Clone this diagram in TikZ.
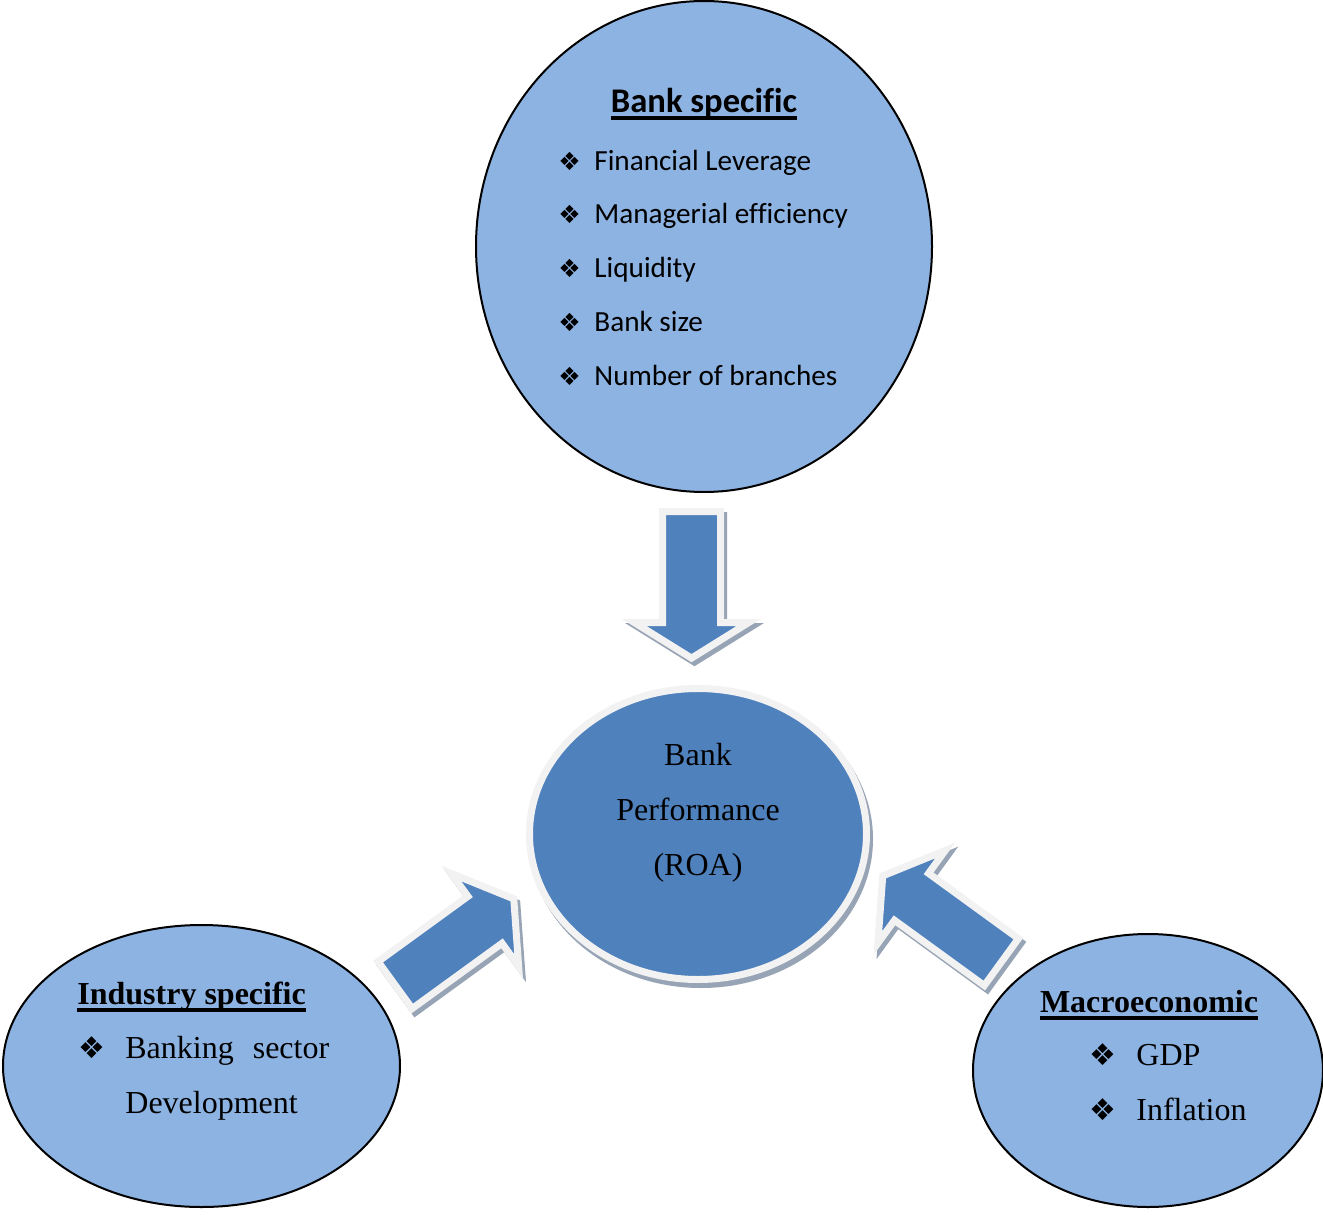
\documentclass[tikz,border=0pt]{standalone}
\usepackage{fontspec}
\setmainfont[Ligatures=NoCommon]{Liberation Serif}
\newfontfamily\calibri[Ligatures=NoCommon]{Carlito}
\newfontfamily\symbols{DejaVu Sans}
\usepackage{tikz}
\usetikzlibrary{shapes.geometric}

\definecolor{paleblue}{HTML}{8DB3E2}
\definecolor{midblue}{HTML}{4F81BD}
\definecolor{rimgray}{HTML}{F2F2F2}
\definecolor{shadegray}{HTML}{97A4B5}

\newcommand{\ulbox}[1]{\setbox0\hbox{#1}\rlap{\rule[-3.8pt]{\wd0}{1.8pt}}\box0}
\newcommand{\diam}[2]{\makebox[#1][l]{\fontsize{#2}{#2}\symbols\char"2756}}

\tikzset{
	oval/.style={ellipse, draw=black, line width=1pt, fill=paleblue, inner sep=0pt, outer sep=0pt},
	hub/.style={ellipse, line width=3.5pt, inner sep=0pt, outer sep=0pt,
		minimum width=168.5pt, minimum height=145.5pt},
	fatarrow/.style={line width=3.5pt, line join=miter,
		insert path={(-3.5,-29) -- (107.5,-29) -- (107.5,-57.25) -- (143.1,0)
			-- (107.5,57.25) -- (107.5,29) -- (-3.5,29) -- cycle}},
	sansitem/.style={anchor=base west, inner sep=0pt, font=\calibri\fontsize{14.6}{17}\selectfont},
	serifitem/.style={anchor=base west, inner sep=0pt, font=\fontsize{16}{19}\selectfont},
	hubtext/.style={anchor=base, inner sep=0pt, font=\fontsize{16}{19}\selectfont}
}

\newcommand{\blockarrow}[2]{%
	\filldraw[shift={(#1)}, shift={(3,4)}, rotate=#2, fatarrow, fill=shadegray, draw=shadegray];
	\filldraw[shift={(#1)}, rotate=#2, fatarrow, fill=midblue, draw=rimgray];
}

\begin{document}
\begin{tikzpicture}[x=0.5pt, y=-0.5pt]
	\path[use as bounding box, fill=white] (0,0) rectangle (1323,1215);

	\node[oval, minimum width=228pt, minimum height=245.5pt] (bank) at (704,246.5) {};
	\node[oval, minimum width=198.5pt, minimum height=141pt] (industry) at (201.5,1066) {};
	\node[oval, minimum width=175pt, minimum height=136.5pt] (macro) at (1148,1070.5) {};

	\node[hub, fill=shadegray, draw=shadegray] (perfshade) at (701,839) {};
	\node[hub, fill=midblue, draw=rimgray] (perf) at (698,834) {};

	\coordinate (tailbank) at (691.5,515);
	\coordinate (tailindustry) at (398,983);
	\coordinate (tailmacro) at (998.5,960);
	\blockarrow{tailbank}{-90}
	\blockarrow{tailindustry}{36}
	\blockarrow{tailmacro}{144}

	\node[anchor=base, inner sep=0pt, font=\calibri\bfseries\fontsize{17.3}{20}\selectfont]
		(banktitle) at (704,112) {\ulbox{Bank specific}};
	\foreach \txt [count=\i] in {Financial Leverage, Managerial efficiency, Liquidity, Bank size, Number of branches}
		\node[sansitem] (bankitem\i) at (558,{170+53.75*(\i-1)}) {\diam{18pt}{12.5}\txt};

	\node[serifitem, font=\bfseries\fontsize{16}{19}\selectfont] (industrytitle) at (77,1004) {\ulbox{Industry specific}};
	\node[serifitem] (industryitem) at (78,1058) {\diam{23.5pt}{15}Banking\hspace{9.5pt}sector};
	\node[serifitem] (industrycont) at (125,1113) {Development};

	\node[hubtext, font=\bfseries\fontsize{16}{19}\selectfont] (macrotitle) at (1149,1012) {\ulbox{Macroeconomic}};
	\node[serifitem] (macroitem1) at (1089,1065) {\diam{23.5pt}{15}GDP};
	\node[serifitem] (macroitem2) at (1089,1120) {\diam{23.5pt}{15}Inflation};

	\node[hubtext] (perftext1) at (698,765) {Bank};
	\node[hubtext] (perftext2) at (698,820) {Performance};
	\node[hubtext] (perftext3) at (698,875) {(ROA)};
\end{tikzpicture}
\end{document}
